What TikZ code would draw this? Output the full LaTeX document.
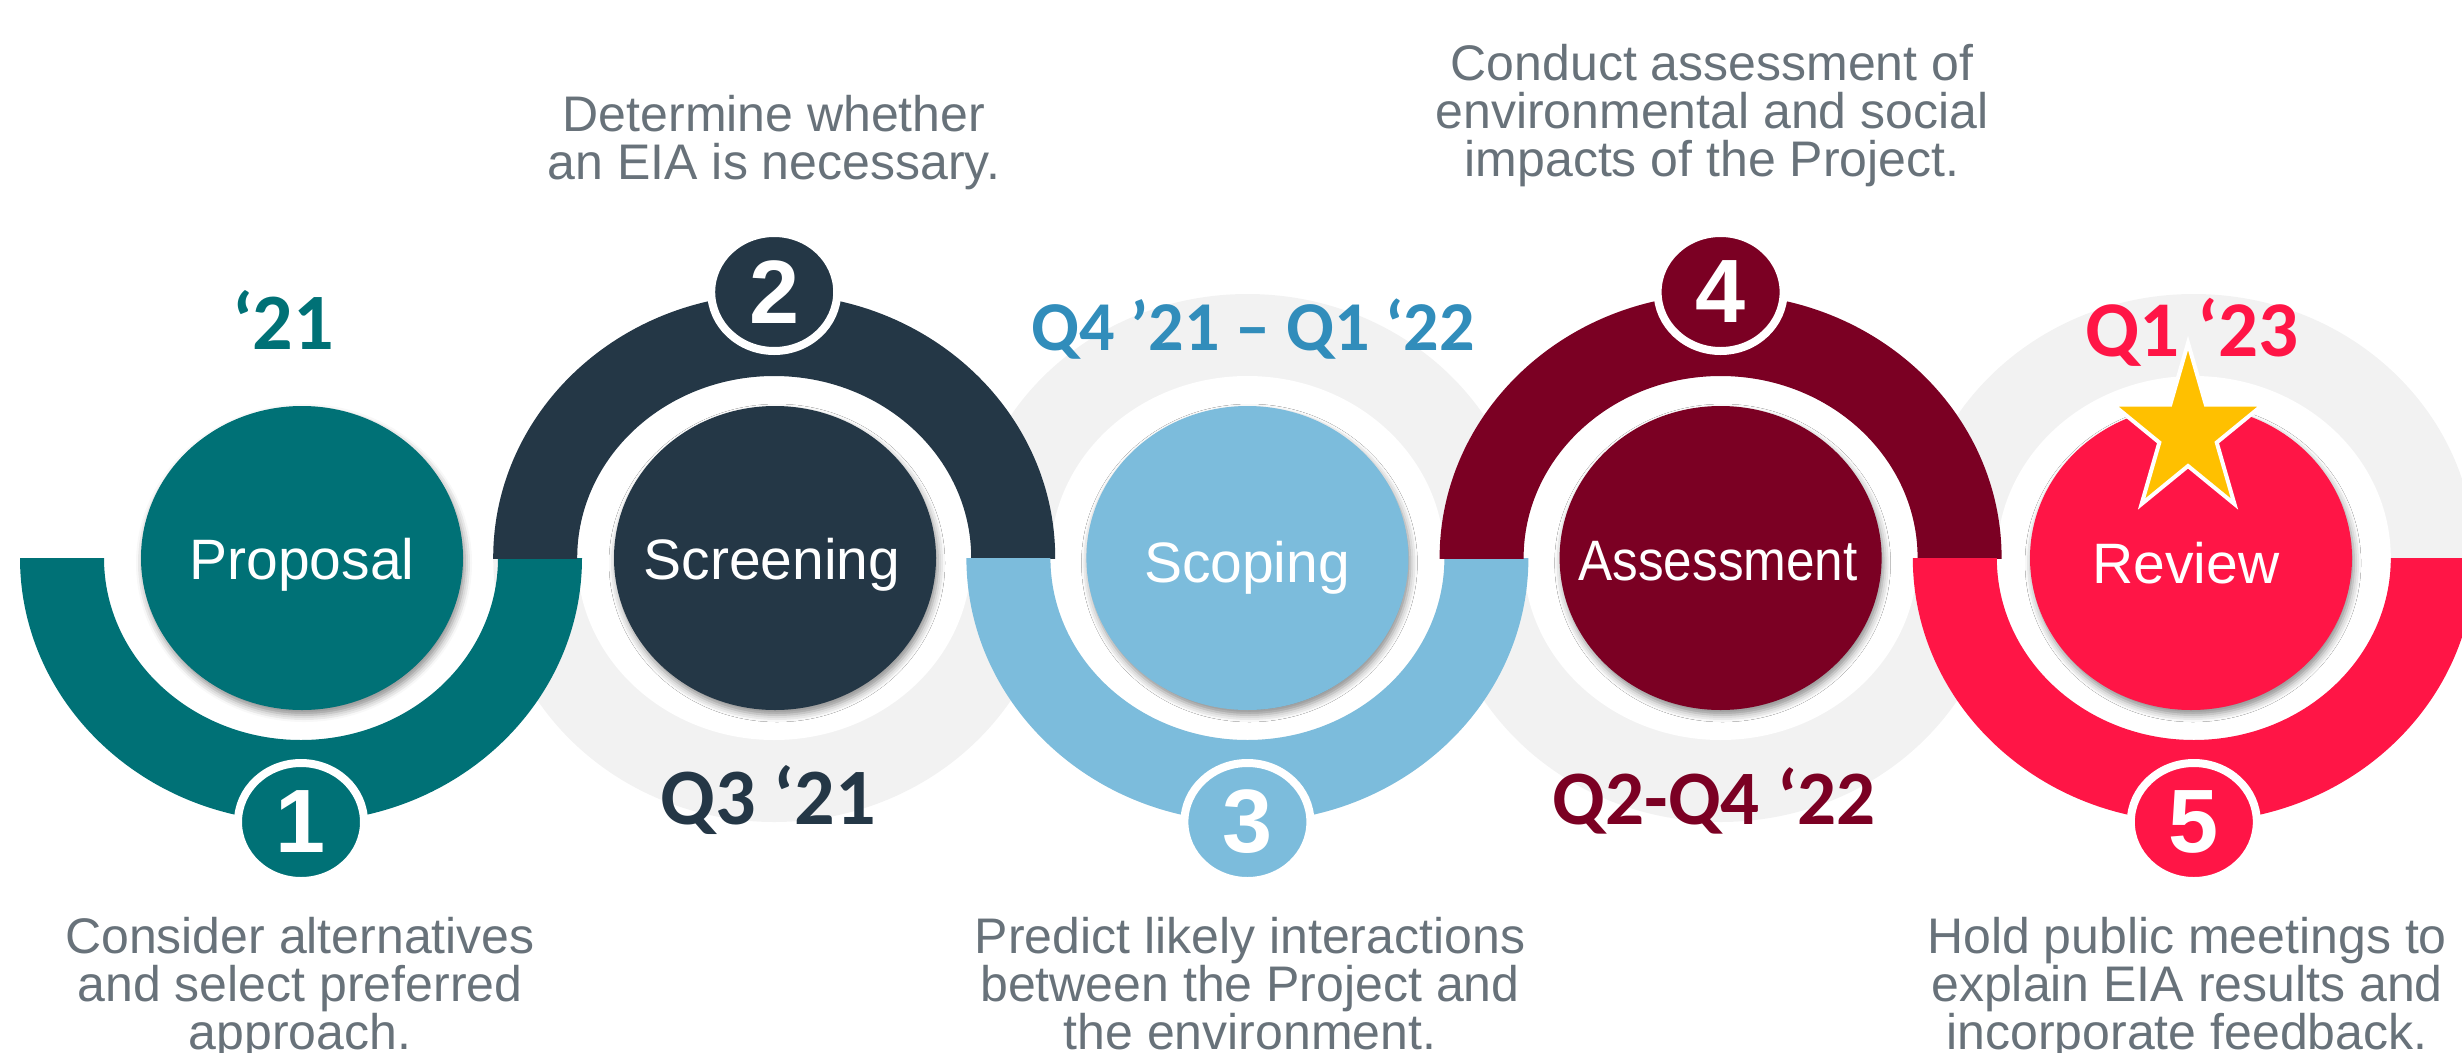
\documentclass[tikz,border=0pt]{standalone}
\usepackage{fontspec}
\setmainfont{Liberation Sans}
\newfontfamily\datefont{Carlito}
\usetikzlibrary{shapes.geometric,shadows.blur}
\definecolor{cTeal}{HTML}{007176}
\definecolor{cNavy}{HTML}{243746}
\definecolor{cSky}{HTML}{7CBCDC}
\definecolor{cSkyText}{HTML}{318DBB}
\definecolor{cMaroon}{HTML}{7B0023}
\definecolor{cRed}{HTML}{FF1546}
\definecolor{cGrayBg}{HTML}{F2F2F2}
\definecolor{cText}{HTML}{68727A}
\definecolor{cStar}{HTML}{FFC000}
\tikzset{
  disk/.style={ellipse, minimum width=322pt, minimum height=304pt, inner sep=0pt, draw=none,
    blur shadow={shadow xshift=2pt, shadow yshift=-5pt, shadow blur radius=7pt, shadow opacity=45}},
  stepname/.style={anchor=base, text=white, inner sep=0pt, font=\fontsize{57}{60}\selectfont},
  badge/.style={ellipse, minimum width=126pt, minimum height=118pt, inner sep=0pt, draw=white,
    line width=8pt, text=white, font=\fontsize{90}{90}\selectfont\bfseries},
  datelbl/.style={anchor=base, inner sep=0pt},
  desc/.style={align=center, anchor=base, inner sep=0pt, text=cText, font=\fontsize{50}{48}\selectfont},
  starshape/.style={fill=cStar, draw=white, line width=4pt, line join=miter},
}
\begin{document}
\begin{tikzpicture}[x=1pt,y=-1pt]
\useasboundingbox (0,0) rectangle (2462,1052);
\clip (0,0) rectangle (2462,1052);
% grey backgrounds
\foreach \cx in {774.2,1247.4,1720.6,2193.8}{
  \fill[cGrayBg] (\cx,558) ellipse[x radius=281pt,y radius=264pt];
}
\foreach \cx in {774.2,1247.4,1720.6,2193.8}{
  \fill[white] (\cx,558) ellipse[x radius=197pt,y radius=182pt];
}
% half rings
\foreach \cx/\col/\ya/\yb in {301/cTeal/558/900, 774.2/cNavy/200/558, 1247.4/cSky/558/900, 1720.6/cMaroon/200/558, 2193.8/cRed/558/900}{
  \begin{scope}
    \clip (\cx-300,\ya) rectangle (\cx+300,\yb);
    \fill[\col,even odd rule] (\cx,558) ellipse[x radius=281pt,y radius=264pt]
                              (\cx,558) ellipse[x radius=197pt,y radius=182pt];
  \end{scope}
}
% badges
\node[badge, fill=cTeal]   (b1) at (301,822)    {1};
\node[badge, fill=cNavy]   (b2) at (774.2,292)  {2};
\node[badge, fill=cSky]    (b3) at (1247.4,822) {3};
\node[badge, fill=cMaroon] (b4) at (1720.6,292) {4};
\node[badge, fill=cRed]    (b5) at (2193.8,822) {5};
% disks
\node[disk, fill=cTeal]   (s1) at (302,558)    {};
\node[disk, fill=cNavy]   (s2) at (775,558)    {};
\node[disk, fill=cSky]    (s3) at (1247.4,558) {};
\node[disk, fill=cMaroon] (s4) at (1720.6,558) {};
\node[disk, fill=cRed]    (s5) at (2191,558)   {};
% step names
\node[stepname] (n1) at (302,579)    {Proposal};
\node[stepname] (n2) at (772,579)    {Screening};
\node[stepname] (n3) at (1247,582)   {Scoping};
\node[stepname] (n4) at (1718,580)   {\scalebox{0.9}[1]{Assessment}};
\node[stepname] (n5) at (2186,583)   {Review};
% dates
\node[datelbl, text=cTeal,   font={\datefont\fontsize{80}{80}\selectfont\bfseries}] (t1) at (283,349)  {‘21};
\node[datelbl, text=cNavy,   font={\datefont\fontsize{80}{80}\selectfont\bfseries}] (t2) at (768,824)  {Q3 ‘21};
\node[datelbl, text=cSkyText,font={\datefont\fontsize{70}{70}\selectfont\bfseries}] (t3) at (1253,350) {Q4 ’21 – Q1 ‘22};
\node[datelbl, text=cMaroon, font={\datefont\fontsize{77}{77}\selectfont\bfseries}] (t4) at (1714,824) {Q2-Q4 ‘22};
\node[datelbl, text=cRed,    font={\datefont\fontsize{79}{79}\selectfont\bfseries}] (t5) at (2192,356) {Q1 ‘23};
% star
\begin{scope}[shift={(2188,432)}, x=79pt, y=89pt]
  \draw[starshape] (90:1) -- (126:0.382) -- (162:1) -- (198:0.382) -- (234:1) -- (270:0.382)
    -- (306:1) -- (342:0.382) -- (18:1) -- (54:0.382) -- cycle;
\end{scope}
% descriptions (anchor base = baseline of the last line)
\node[desc] (d1) at (300,1049)  {Consider alternatives\\and select preferred\\approach.};
\node[desc] (d2) at (774,179)   {Determine whether\\an EIA is necessary.};
\node[desc] (d3) at (1250,1049) {Predict likely interactions\\between the Project and\\the environment.};
\node[desc] (d4) at (1712,176)  {Conduct assessment of\\environmental and social\\impacts of the Project.};
\node[desc] (d5) at (2187,1049) {Hold public meetings to\\explain EIA results and\\incorporate feedback.};
\end{tikzpicture}
\end{document}
